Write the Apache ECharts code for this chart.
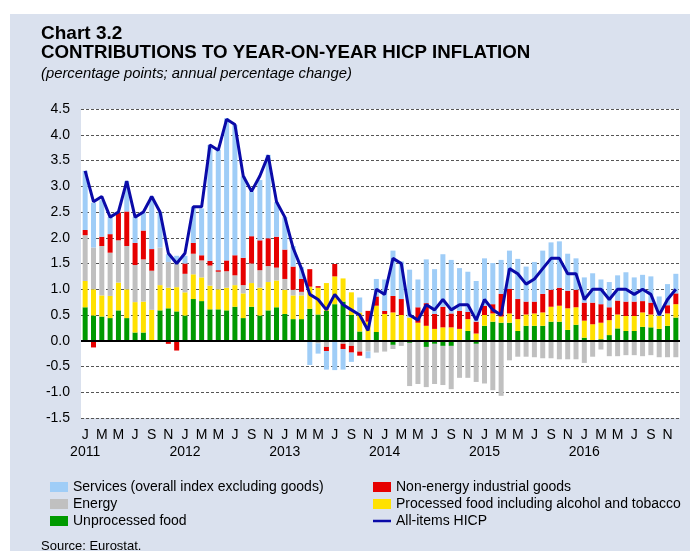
<!DOCTYPE html>
<html><head><meta charset="utf-8">
<script src="https://cdn.jsdelivr.net/npm/echarts@6/dist/echarts.min.js"></script>
<style>
html,body{margin:0;padding:0;background:#fff;}
#panel{position:absolute;left:10px;top:14px;width:680px;height:537px;background:#dae1ee;}
#chart{position:absolute;left:0;top:0;width:695px;height:551px;}
</style></head><body>
<div id="panel"></div>
<div id="chart"></div>
<script>
const years = ['2011','2012','2013','2014','2015','2016'];
const monthLetters = ['J','F','M','A','M','J','J','A','S','O','N','D'];
const yTicks = [-1.5,-1.0,-0.5,0.0,0.5,1.0,1.5,2.0,2.5,3.0,3.5,4.0,4.5];

const unprocessedFood = [
  0.65,0.49,0.47,0.44,0.59,0.44,0.16,0.16,0.00,0.59,0.63,0.57,
  0.49,0.81,0.77,0.61,0.61,0.59,0.66,0.44,0.66,0.49,0.59,0.65,
  0.52,0.42,0.42,0.62,0.51,0.58,0.71,0.76,0.50,0.18,0.00,0.17,
  0.00,-0.08,0.00,-0.04,0.00,-0.12,-0.06,-0.10,-0.10,0.00,0.19,-0.06,
  0.29,0.37,0.35,0.35,0.19,0.29,0.29,0.29,0.37,0.37,0.21,0.31,
  0.06,0.00,0.03,0.11,0.24,0.19,0.19,0.27,0.26,0.23,0.29,0.45
];
const processedFood = [
  0.51,0.51,0.41,0.43,0.54,0.56,0.59,0.60,0.60,0.49,0.40,0.47,
  0.45,0.48,0.46,0.46,0.39,0.44,0.42,0.48,0.46,0.54,0.55,0.52,
  0.47,0.46,0.46,0.43,0.52,0.54,0.54,0.45,0.44,0.37,0.37,0.51,
  0.52,0.55,0.50,0.45,0.35,0.29,0.23,0.26,0.26,0.23,0.23,0.14,
  0.21,0.16,0.12,0.18,0.23,0.22,0.24,0.26,0.29,0.31,0.42,0.34,
  0.33,0.32,0.32,0.29,0.27,0.29,0.29,0.28,0.25,0.25,0.24,0.26
];
const energy = [
  0.89,0.81,0.96,0.84,0.82,0.84,0.72,0.82,0.76,0.73,0.50,0.46,
  0.36,0.40,0.33,0.39,0.34,0.32,0.19,0.16,0.38,0.34,0.31,0.25,
  0.21,0.11,0.07,0.00,-0.05,-0.12,0.00,-0.06,-0.10,-0.21,-0.21,-0.23,
  -0.21,-0.08,-0.10,-0.84,-0.84,-0.78,-0.78,-0.76,-0.84,-0.72,-0.72,-0.74,
  -0.83,-0.96,-1.07,-0.38,-0.31,-0.31,-0.32,-0.34,-0.34,-0.36,-0.36,-0.36,
  -0.43,-0.31,-0.17,-0.30,-0.30,-0.28,-0.28,-0.30,-0.28,-0.32,-0.32,-0.32
];
const nonEnergyIndustrialGoods = [
  0.10,-0.13,0.18,0.36,0.54,0.67,0.43,0.56,0.42,0.00,-0.06,-0.19,
  0.20,0.21,0.10,0.09,0.03,0.21,0.39,0.53,0.53,0.58,0.54,0.60,
  0.57,0.45,0.25,0.34,0.03,-0.08,0.24,-0.10,-0.13,-0.08,0.21,0.18,
  0.06,0.32,0.31,0.00,0.30,0.44,0.29,0.40,0.27,0.35,0.14,0.23,
  0.18,0.18,0.44,0.48,0.39,0.25,0.23,0.36,0.33,0.35,0.34,0.34,
  0.35,0.42,0.36,0.25,0.27,0.28,0.28,0.22,0.23,0.00,0.16,0.21
];
const services = [
  1.15,0.87,0.71,0.33,0.00,0.59,0.50,0.35,1.02,0.68,0.15,0.15,
  0.15,0.70,0.91,2.25,2.34,2.76,2.53,1.58,0.87,1.17,1.62,0.67,
  0.63,0.40,0.23,-0.47,-0.20,-0.36,-0.57,-0.40,-0.18,0.29,-0.13,0.34,
  0.61,0.88,0.73,0.93,0.54,0.85,0.87,1.02,1.04,0.83,0.78,0.79,
  0.92,0.80,0.66,0.74,0.78,0.68,0.77,0.84,0.92,0.90,0.72,0.61,
  0.49,0.57,0.48,0.49,0.49,0.57,0.47,0.51,0.51,0.38,0.41,0.38
];
const hicp = [
  3.3,2.7,2.8,2.4,2.5,3.1,2.4,2.5,2.8,2.5,1.7,1.5,
  1.7,2.6,2.6,3.8,3.7,4.3,4.2,3.2,2.9,3.2,3.6,2.7,
  2.4,1.8,1.4,0.9,0.8,0.6,0.9,0.7,0.6,0.5,0.2,1.0,
  0.9,1.6,1.5,0.5,0.4,0.7,0.6,0.8,0.6,0.7,0.7,0.4,
  0.8,0.6,0.5,1.4,1.3,1.1,1.2,1.4,1.6,1.6,1.3,1.3,
  0.8,1.0,1.0,0.8,1.0,1.0,0.9,1.0,0.9,0.5,0.8,1.0
];

const categories = [];
years.forEach(y => monthLetters.forEach((m, i) => categories.push(y + '-' + (i + 1))));

const FONT = "'Liberation Sans', Arial, sans-serif";
const names = {
  svc: 'Services (overall index excluding goods)',
  en: 'Energy',
  uf: 'Unprocessed food',
  neig: 'Non-energy industrial goods',
  pf: 'Processed food including alcohol and tobacco',
  hicp: 'All-items HICP'
};
const colors = {uf:'#009a00', pf:'#ffe100', en:'#c0c0c0', neig:'#e60000', svc:'#9fcdf7', hicp:'#0a0aa8'};

function bar(key, data) {
  return {name: names[key], type: 'bar', stack: 'total', data: data, barWidth: 5,
    itemStyle: {color: colors[key]}, emphasis: {disabled: true}};
}

const chart = echarts.init(document.getElementById('chart'), null, {renderer: 'canvas'});
chart.setOption({
  backgroundColor: 'transparent',
  animation: false,
  textStyle: {fontFamily: FONT},
  title: [
    {text: 'Chart 3.2', left: 41, top: 24, padding: 0,
      textStyle: {fontSize: 19, fontWeight: 'bold', color: '#000', fontFamily: FONT}},
    {text: 'CONTRIBUTIONS TO YEAR-ON-YEAR HICP INFLATION', left: 41, top: 43, padding: 0,
      textStyle: {fontSize: 18.7, fontWeight: 'bold', color: '#000', fontFamily: FONT}},
    {text: '(percentage points; annual percentage change)', left: 41, top: 66, padding: 0,
      textStyle: {fontSize: 14.8, fontWeight: 'normal', fontStyle: 'italic', color: '#000', fontFamily: FONT}}
  ],
  legend: [
    {orient: 'vertical', left: 50, top: 480, itemWidth: 18, itemHeight: 10, itemGap: 3, padding: 0,
      selectedMode: false,
      textStyle: {fontSize: 14, lineHeight: 14, color: '#000', fontFamily: FONT},
      data: [{name: names.svc, icon: 'rect'}, {name: names.en, icon: 'rect'}, {name: names.uf, icon: 'rect'}]},
    {orient: 'vertical', left: 373, top: 480, itemWidth: 18, itemHeight: 10, itemGap: 3, padding: 0,
      selectedMode: false, symbolKeepAspect: true,
      textStyle: {fontSize: 14, lineHeight: 14, color: '#000', fontFamily: FONT},
      data: [{name: names.neig, icon: 'rect'}, {name: names.pf, icon: 'rect'},
             {name: names.hicp, icon: 'path://M0,0 L18,0 L18,2.5 L0,2.5 Z'}]}
  ],
  grid: {left: 81, top: 109, width: 599, height: 309, show: true, backgroundColor: '#ffffff', borderWidth: 0, containLabel: false},
  xAxis: [
    {
      type: 'category', data: categories, boundaryGap: true, position: 'bottom',
      axisLine: {show: false}, axisTick: {show: false}, splitLine: {show: false},
      axisLabel: {
        interval: 1, margin: 10, fontSize: 14, color: '#000', fontFamily: FONT,
        formatter: function (v, idx) { return monthLetters[idx % 12]; }
      }
    },
    {
      type: 'category', data: categories, boundaryGap: true, position: 'bottom', offset: 0,
      axisLine: {show: false}, axisTick: {show: false}, splitLine: {show: false},
      axisLabel: {
        interval: function (idx) { return idx % 12 === 0; },
        margin: 27, fontSize: 14, color: '#000', fontFamily: FONT,
        formatter: function (v, idx) { return years[Math.floor(idx / 12)]; }
      }
    }
  ],
  yAxis: {
    type: 'value', min: yTicks[0], max: yTicks[yTicks.length - 1], interval: 0.5,
    axisLine: {show: false}, axisTick: {show: false},
    axisLabel: {margin: 11, fontSize: 14, color: '#000', fontFamily: FONT, formatter: v => v.toFixed(1)},
    splitLine: {show: true, lineStyle: {color: '#555', type: [3, 2], width: 1}}
  },
  graphic: [
    {type: 'text', left: 41, top: 540, style: {text: 'Source: Eurostat.', font: '13px ' + FONT, fill: '#000'}}
  ],
  series: [
    bar('uf', unprocessedFood),
    bar('pf', processedFood),
    bar('en', energy),
    bar('neig', nonEnergyIndustrialGoods),
    bar('svc', services),
    {name: names.hicp, type: 'line', data: hicp, symbol: 'none', z: 5,
      lineStyle: {color: colors.hicp, width: 3}, itemStyle: {color: colors.hicp},
      emphasis: {disabled: true},
      markLine: {silent: true, symbol: 'none', label: {show: false},
        lineStyle: {color: '#000', width: 2, type: 'solid'},
        data: [{yAxis: 0}], animation: false}}
  ]
});
</script>
</body></html>
